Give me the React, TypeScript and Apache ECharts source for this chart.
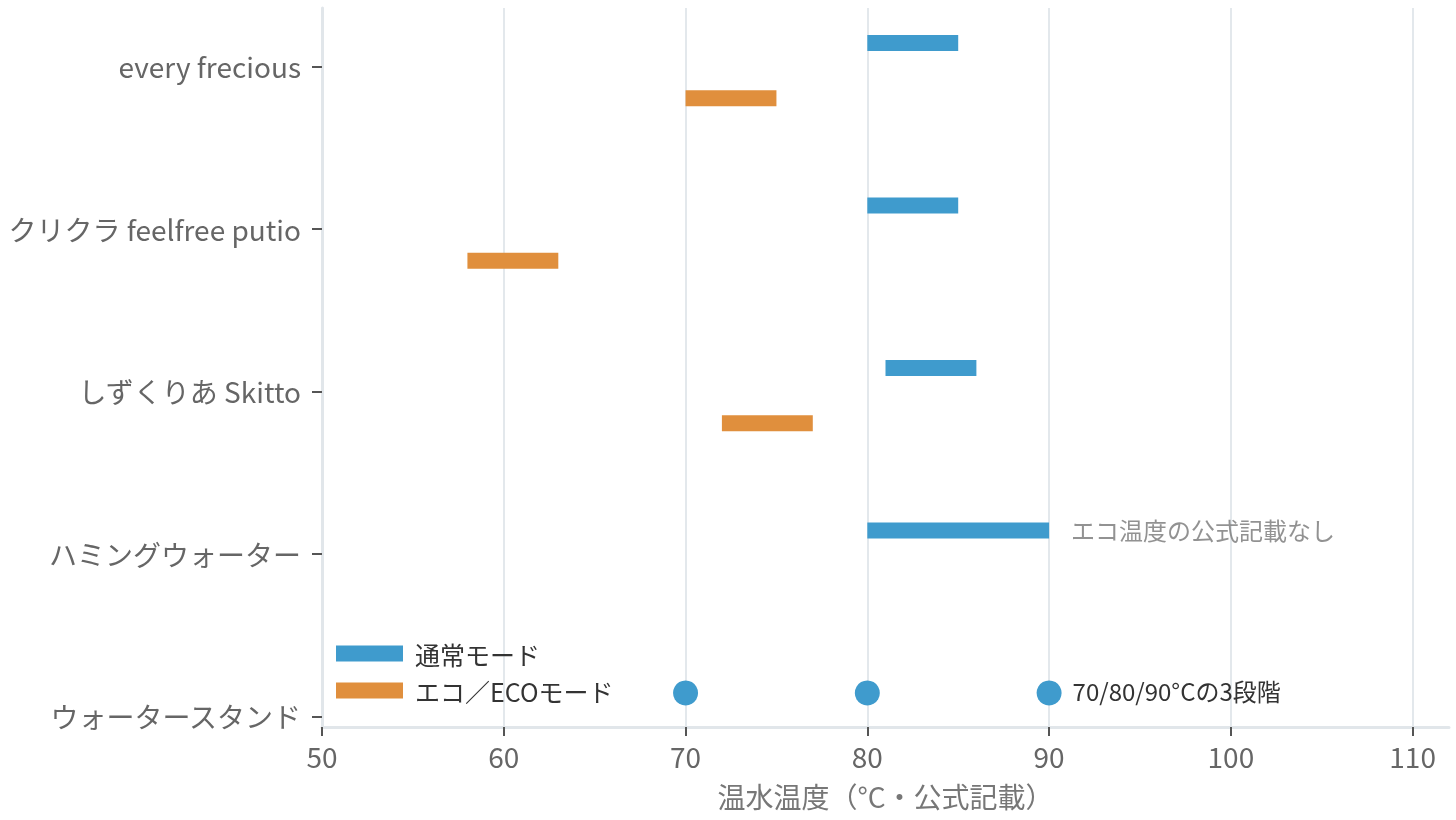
import { useEffect, useRef } from "react";
import * as echarts from "echarts";

const categories = [
  "every frecious",
  "クリクラ feelfree putio",
  "しずくりあ Skitto",
  "ハミングウォーター",
  "ウォータースタンド",
];
// 通常モード (start / end), null = no bar
const normalStart = [80, 80, 81, 80, null];
const normalEnd = [85, 85, 86, 90, null];
// エコ／ECOモード
const ecoStart = [70, 58, 72, null, null];
const ecoEnd = [75, 63, 77, null, null];
// ウォータースタンド: fixed steps
const standLevels = [70, 80, 90];
const standIndex = 4;
const noEcoIndex = 3;
const xTicks = [50, 60, 70, 80, 90, 100, 110];

const BLUE = "#3f9bcd";
const ORANGE = "#e08f3d";
const FONT = "'Noto Sans CJK JP', 'Noto Sans', sans-serif";
const NORMAL_OFFSET = -0.145;
const ECO_OFFSET = 0.195;
const BAR_HEIGHT = 16;

function rangeData(starts: (number | null)[], ends: (number | null)[]) {
  return starts
    .map((s, i) => (s === null || ends[i] === null ? null : [s, ends[i], i]))
    .filter((d) => d !== null) as number[][];
}

function rangeSeries(
  name: string,
  color: string,
  offset: number,
  starts: (number | null)[],
  ends: (number | null)[],
) {
  return {
    name,
    type: "custom",
    itemStyle: { color },
    data: rangeData(starts, ends),
    encode: { x: [0, 1], y: 2 },
    renderItem: (params: any, api: any) => {
      const y = api.value(2) + offset;
      const a = api.coord([api.value(0), y]);
      const b = api.coord([api.value(1), y]);
      return {
        type: "rect",
        shape: {
          x: a[0],
          y: a[1] - BAR_HEIGHT / 2,
          width: b[0] - a[0],
          height: BAR_HEIGHT,
        },
        style: { fill: color },
      };
    },
  };
}

export default function App() {
  const ref = useRef<HTMLDivElement>(null);
  useEffect(() => {
    const element = ref.current;
    if (element === null) return;
    const chart = echarts.init(element, undefined, { renderer: "svg" });
    chart.setOption({
      animation: false,
      textStyle: { fontFamily: FONT },
      grid: { left: 322, right: 7, top: 8, bottom: 93, containLabel: false },
      legend: {
        orient: "vertical",
        left: 331,
        top: 636,
        icon: "rect",
        itemWidth: 67,
        itemHeight: 16,
        itemGap: 12,
        data: [
          { name: "通常モード", itemStyle: { color: BLUE } },
          { name: "エコ／ECOモード", itemStyle: { color: ORANGE } },
        ],
        textStyle: {
          color: "#333",
          fontSize: 25,
          fontFamily: FONT,
          padding: [0, 0, 0, 7],
        },
      },
      xAxis: {
        type: "value",
        min: 50,
        max: 112,
        interval: 10,
        name: "温水温度（°C・公式記載）",
        nameLocation: "middle",
        nameGap: 55,
        nameTextStyle: { color: "#777", fontSize: 28, fontFamily: FONT },
        axisLine: {
          show: true,
          onZero: false,
          lineStyle: { color: "#e1e6ea", width: 3 },
        },
        axisTick: {
          show: true,
          length: 9,
          customValues: xTicks,
          lineStyle: { color: "#555", width: 2 },
        },
        axisLabel: {
          customValues: xTicks,
          color: "#666",
          fontSize: 28,
          margin: 15,
          fontFamily: FONT,
        },
        splitLine: { show: true, lineStyle: { color: "#e3e8ec", width: 2 } },
      },
      yAxis: {
        type: "value",
        inverse: true,
        min: -0.36,
        max: 4.065,
        axisLine: {
          show: true,
          onZero: false,
          lineStyle: { color: "#e1e6ea", width: 3 },
        },
        axisTick: {
          show: true,
          length: 10,
          customValues: categories.map((_, i) => i),
          lineStyle: { color: "#555", width: 2 },
        },
        axisLabel: {
          customValues: categories.map((_, i) => i),
          formatter: (v: number) => categories[Math.round(v)] ?? "",
          color: "#666",
          fontSize: 28,
          margin: 21,
          fontFamily: FONT,
        },
        splitLine: { show: false },
      },
      series: [
        rangeSeries("通常モード", BLUE, NORMAL_OFFSET, normalStart, normalEnd),
        rangeSeries("エコ／ECOモード", ORANGE, ECO_OFFSET, ecoStart, ecoEnd),
        {
          name: "levels",
          type: "scatter",
          symbol: "circle",
          symbolSize: 25,
          itemStyle: { color: BLUE, opacity: 1 },
          data: standLevels.map((v) => [v, standIndex + NORMAL_OFFSET]),
          label: {
            show: true,
            position: "right",
            distance: 11,
            offset: [0, -2],
            color: "#333",
            fontSize: 24,
            fontFamily: FONT,
            formatter: (p: any) =>
              p.dataIndex === standLevels.length - 1
                ? "70/80/90°Cの3段階"
                : "",
          },
          z: 3,
        },
        {
          name: "note",
          type: "scatter",
          symbolSize: 0,
          data: [[normalEnd[noEcoIndex], noEcoIndex + NORMAL_OFFSET]],
          label: {
            show: true,
            position: "right",
            distance: 22,
            offset: [0, -1],
            color: "#777",
            fontSize: 24,
            fontFamily: FONT,
            formatter: "エコ温度の公式記載なし",
          },
        },
      ],
    });
    const resize = () => chart.resize();
    window.addEventListener("resize", resize);
    return () => {
      window.removeEventListener("resize", resize);
      chart.dispose();
    };
  }, []);
  return (
    <div
      ref={ref}
      style={{ position: "fixed", left: 0, top: 0, width: 1456, height: 820 }}
    />
  );
}
